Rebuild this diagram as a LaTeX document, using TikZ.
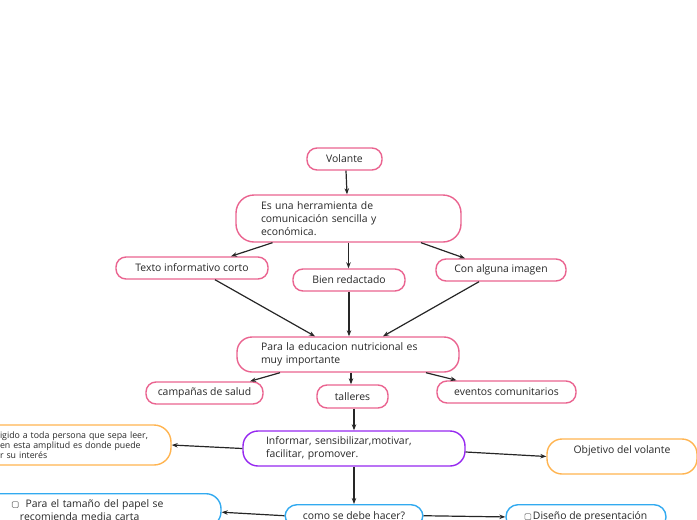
\documentclass[tikz,border=0pt]{standalone}
\usepackage{fontspec}
\setmainfont{Open Sans}
\usetikzlibrary{arrows.meta}
\definecolor{pinkc}{RGB}{234,100,144}
\definecolor{purpc}{RGB}{150,40,240}
\definecolor{orangec}{RGB}{255,180,80}
\definecolor{bluec}{RGB}{50,170,240}
\definecolor{txtc}{RGB}{40,40,40}
\newcommand\chkbox{\tikz[baseline=0pt]\draw[gray,line width=0.6pt,rounded corners=1pt] (0pt,0pt) rectangle (6pt,6pt);}
\begin{document}
\begin{tikzpicture}[x=1pt,y=-1pt,
  every node/.style={font=\fontsize{10.4}{13}\selectfont, text=txtc},
  boxbase/.style={draw, line width=1.4pt, fill=white, rounded corners=10pt, inner sep=0pt},
  pinkbox/.style={boxbase, draw=pinkc},
  purpbox/.style={boxbase, draw=purpc},
  orbox/.style={boxbase, draw=orangec},
  bluebox/.style={boxbase, draw=bluec},
  arr/.style={-{Stealth[length=6pt,width=4.5pt]}, line width=1.2pt, draw=black!85}
]
\useasboundingbox (0,0) rectangle (697,520);
\clip (0,0) rectangle (697,520);

\node[pinkbox, minimum width=75, minimum height=22] (vol) at (344.5,159) {Volante};
\node[pinkbox, rounded corners=18pt, minimum width=225, minimum height=47, text width=175, align=left] (herr) at (348.5,218.5) {Es una herramienta de\\comunicación sencilla y\\económica.};
\node[pinkbox, minimum width=152, minimum height=22] (texto) at (192,268) {Texto informativo corto};
\node[pinkbox, minimum width=112, minimum height=22] (bien) at (349,280) {Bien redactado};
\node[pinkbox, minimum width=130, minimum height=22] (con) at (501,270) {Con alguna imagen};
\node[pinkbox, rounded corners=15pt, minimum width=222, minimum height=35, text width=174, align=left] (para) at (348,354.5) {Para la educacion nutricional es\\muy importante};
\node[pinkbox, minimum width=117, minimum height=22] (camp) at (204.5,393) {campañas de salud};
\node[pinkbox, minimum width=71, minimum height=23] (tall) at (352.5,396.5) {talleres};
\node[pinkbox, minimum width=139, minimum height=22] (even) at (506.5,392) {eventos comunitarios};
\node[purpbox, rounded corners=15pt, minimum width=222, minimum height=35, text width=176, align=left] (inf) at (354,448.5) {Informar, sensibilizar,motivar,\\facilitar, promover.};
\node[orbox, rounded corners=15pt, minimum width=150, minimum height=35, align=center] (obj) at (622,456.5) {Objetivo del volante\\ \mbox{}};
\node[orbox, rounded corners=17pt, minimum width=192, minimum height=40, text width=150, align=left, font=\fontsize{8.8}{10}\selectfont] (lo) at (75,445) {igido a toda persona que sepa leer,\\en esta amplitud es donde puede\\r su interés};
\node[bluebox, rounded corners=15pt, anchor=north, minimum width=248, text width=170, inner ysep=6pt, align=left] (lb) at (97,493) {\chkbox\ \ Para el tamaño del papel se\\ \hspace*{8pt}recomienda media carta};
\node[bluebox, rounded corners=12pt, anchor=north, minimum width=138, inner ysep=7pt] (como) at (354,504) {como se debe hacer?};
\node[bluebox, rounded corners=12pt, anchor=north, minimum width=160, inner ysep=7pt] (dis) at (586,504) {\chkbox\,Diseño de presentación};

\draw[arr] ([xshift=1.5pt]vol.south) -- ([xshift=-1.5pt]herr.north);
\draw[arr] ([xshift=-76pt]herr.south) -- ([xshift=39pt]texto.north);
\draw[arr] (herr.south) -- (herr.south |- bien.north);
\draw[arr] ([xshift=72.5pt]herr.south) -- ([xshift=-36pt]con.north);
\draw[arr] ([xshift=23pt]texto.south) -- ([xshift=-33pt]para.north);
\draw[arr] (bien.south) -- (bien.south |- para.north);
\draw[arr] ([xshift=-22pt]con.south) -- ([xshift=35pt]para.north);
\draw[arr] ([xshift=-68pt]para.south) -- ([xshift=45.5pt]camp.north);
\draw[arr] ([xshift=3pt]para.south) -- ([xshift=-1.5pt]tall.north);
\draw[arr] ([xshift=78pt]para.south) -- ([xshift=-50pt]even.north);
\draw[arr] ([xshift=1.5pt]tall.south) -- (inf.north);
\draw[arr] (inf.west) -- (lo.east);
\draw[arr] ([yshift=-3.5pt]inf.east) -- (obj.west);
\draw[arr] (inf.south) -- (como.north);
\draw[arr] (como.west) -- ([yshift=-2pt]lb.east);
\draw[arr] (como.east) -- (dis.west);
\end{tikzpicture}
\end{document}
